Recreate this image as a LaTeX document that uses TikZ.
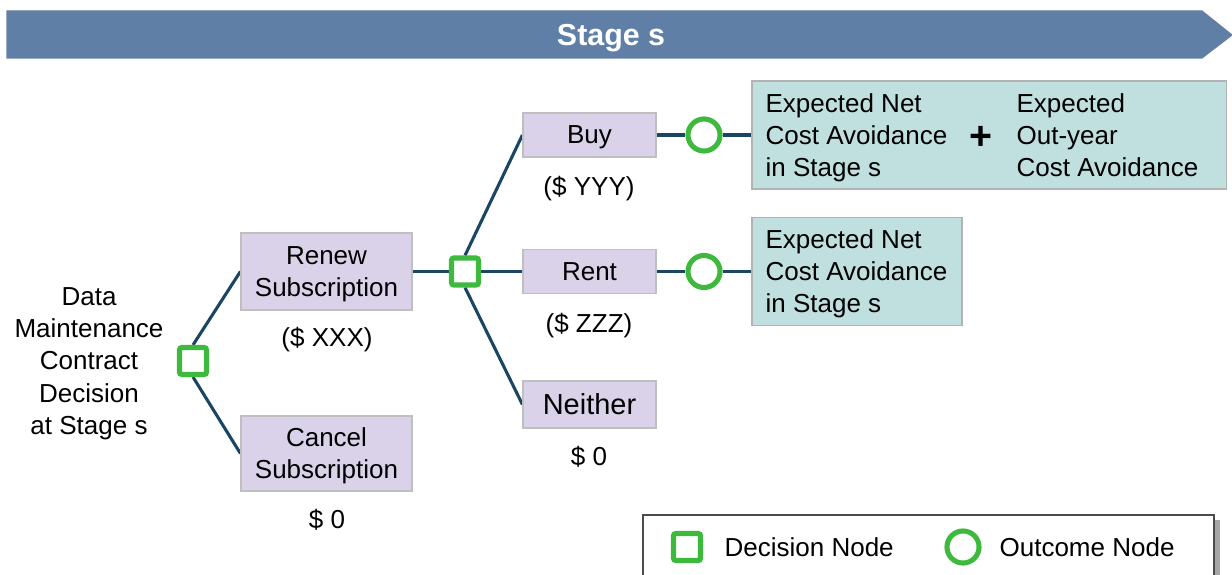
\documentclass[tikz,border=0pt]{standalone}
\usepackage{fontspec}
\setmainfont{Liberation Sans}
\usepackage{xcolor}
\usepackage{tikz}
\usetikzlibrary{backgrounds}

\definecolor{bannerblue}{HTML}{5F7FA6}
\definecolor{choicefill}{HTML}{D9D2E9}
\definecolor{resultfill}{HTML}{C0DFDF}
\definecolor{branchline}{HTML}{1A4563}
\definecolor{nodegreen}{HTML}{3DBA3D}

\tikzset{
  choicebox/.style={draw=black!25, fill=choicefill, align=center, inner sep=0pt},
  resultbox/.style={draw=black!30, fill=resultfill, inner sep=0pt},
  decnode/.style={draw=nodegreen, fill=white, line width=1.8pt, rounded corners=0.8pt, minimum size=9.6pt, inner sep=0pt},
  outnode/.style={circle, draw=nodegreen, fill=white, line width=1.8pt, minimum size=11.4pt, inner sep=0pt},
  branch/.style={draw=branchline, line width=1.1pt},
  costlabel/.style={inner sep=0pt},
  bodytext/.style={font=\fontsize{9.25}{11.4}\selectfont}
}

\begin{document}
\begin{tikzpicture}[x=0.0125cm,y=-0.0125cm,bodytext,every node/.append style={text depth=0pt}]
  \useasboundingbox (0,0) rectangle (1232,575);
  \clip (0,0) rectangle (1232,575);

  % stage banner
  \draw[fill=bannerblue, draw=bannerblue!75!gray] (7,11) -- (1202,11) -- (1232,35) -- (1202,58) -- (7,58) -- cycle;
  \node[text=white, font=\fontsize{10.8}{12}\selectfont\bfseries] (stage) at (611,35) {Stage s};

  % first decision
  \node[align=center, inner sep=0pt] (contract) at (89,361) {Data\\Maintenance\\Contract\\Decision\\at Stage s};
  \node[decnode] (d1) at (193,361) {};

  \node[choicebox, minimum width=2.1375cm, minimum height=0.9625cm] (renew) at (326.5,271.5) {Renew\\Subscription};
  \node[costlabel] (renewcost) at (327,337) {(\$ XXX)};
  \node[choicebox, minimum width=2.1375cm, minimum height=0.9375cm] (cancel) at (326.5,453.5) {Cancel\\Subscription};
  \node[costlabel] (cancelcost) at (327,519) {\$ 0};

  % second decision
  \node[decnode] (d2) at (465,271.5) {};
  \node[choicebox, minimum width=1.6625cm, minimum height=0.55cm] (buy) at (589.5,135) {Buy};
  \node[costlabel] (buycost) at (589,186) {(\$ YYY)};
  \node[choicebox, minimum width=1.6625cm, minimum height=0.55cm] (rent) at (589.5,271.5) {Rent};
  \node[costlabel] (rentcost) at (589,323) {(\$ ZZZ)};
  \node[choicebox, minimum width=1.6625cm, minimum height=0.5875cm, font=\fontsize{10.3}{12}\selectfont] (neither) at (589.5,404.5) {Neither};
  \node[costlabel] (neithercost) at (589,456) {\$ 0};

  % outcomes
  \node[outnode] (o1) at (704,135) {};
  \node[outnode] (o2) at (704,271.5) {};

  \node[resultbox, minimum width=5.925cm, minimum height=1.35cm] (res1) at (989,135) {};
  \node[anchor=west, align=left, inner sep=0pt] (net1) at (765,135) {Expected Net\\Cost Avoidance\\in Stage s};
  \node[font=\fontsize{14}{14}\selectfont\bfseries, inner sep=0pt] (plus) at (981,138) {+};
  \node[anchor=west, align=left, inner sep=0pt] (outyear) at (1016,135) {Expected\\Out-year\\Cost Avoidance};

  \node[resultbox, minimum width=2.625cm, minimum height=1.35cm] (res2) at (857,271.5) {};
  \node[anchor=west, align=left, inner sep=0pt] (net2) at (765,271.5) {Expected Net\\Cost Avoidance\\in Stage s};

  \begin{scope}[on background layer]
    \draw[branch] (d1.north) -- (renew.west);
    \draw[branch] (d1.south) -- (cancel.west);
    \draw[branch] (renew.east) -- (d2) -- (rent.west);
    \draw[branch] (d2.north) -- (buy.west);
    \draw[branch] (d2.south) -- (neither.west);
    \draw[branch] (buy.east) -- (o1) -- (res1.west);
    \draw[branch] (rent.east) -- (o2) -- (res2.west);
  \end{scope}

  % legend
  \fill[black!35] (648,520) rectangle (1220,600);
  \draw[fill=white, draw=black!70, line width=0.5pt] (643,515) rectangle (1214,600);
  \node[decnode] (keydec) at (687,547) {};
  \node[anchor=west, inner sep=0pt] (keydectext) at (724,547) {Decision Node};
  \node[outnode] (keyout) at (963,547) {};
  \node[anchor=west, inner sep=0pt] (keyouttext) at (999,547) {Outcome Node};
\end{tikzpicture}
\end{document}
